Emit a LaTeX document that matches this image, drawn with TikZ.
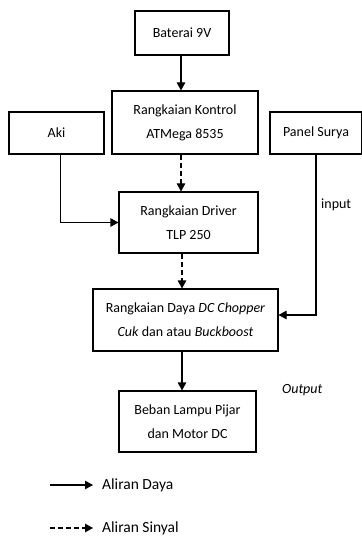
\documentclass[tikz,border=0pt]{standalone}
\usepackage{fontspec}
\setmainfont{Carlito}
\usetikzlibrary{arrows.meta}
\begin{document}
\begin{tikzpicture}[x=1pt,y=-1pt,
  box/.style={draw,line width=1.1pt,inner sep=0pt,align=center,font=\fontsize{14}{24}\selectfont},
  lbl/.style={inner sep=0pt,font=\fontsize{14}{24}\selectfont},
  leg/.style={inner sep=0pt,font=\fontsize{15.5}{24}\selectfont},
  arr/.style={line width=1.1pt,-{Triangle[length=8pt,width=8.5pt]}},
  sig/.style={arr,dash pattern=on 5pt off 3pt}]
\useasboundingbox (0,0) rectangle (361,537);
\node[box,minimum width=94pt,minimum height=44pt] (bat) at (182,33) {Baterai 9V};
\node[box,minimum width=146pt,minimum height=63pt] (kon) at (185,122.5) {Rangkaian Kontrol\\ATMega 8535};
\node[box,minimum width=95pt,minimum height=42pt] (aki) at (56.5,133) {Aki};
\node[box,minimum width=92pt,minimum height=42pt] (pan) at (316,133) {Panel Surya};
\node[box,minimum width=139pt,minimum height=61pt] (drv) at (188.5,222.5) {Rangkaian Driver\\TLP 250};
\node[box,minimum width=185pt,minimum height=62pt] (day) at (185.5,320) {Rangkaian Daya \textit{DC Chopper}\\\textit{Cuk} dan atau \textit{Buckboost}};
\node[box,minimum width=137pt,minimum height=61pt] (beb) at (187.5,421.5) {Beban Lampu Pijar\\dan Motor DC};
\node[lbl,anchor=west] (inp) at (321,205) {input};
\node[lbl,anchor=west] (out) at (282,390) {\textit{Output}};
\draw[arr] (bat.south -| 181,0) -- (181,0 |- kon.north);
\draw[sig] (kon.south -| 181,0) -- (181,0 |- drv.north);
\draw[sig] (drv.south -| 182,0) -- (182,0 |- day.north);
\draw[arr] (day.south -| 182,0) -- (182,0 |- beb.north);
\draw[arr] ([xshift=4pt]aki.south) |- (drv.west);
\draw[arr] (pan.south) |- ([yshift=5pt]day.east);
\coordinate (l1a) at (50,485);
\coordinate (l1b) at (93,485);
\coordinate (l2a) at (50,528);
\coordinate (l2b) at (93,528);
\draw[arr] (l1a) -- (l1b);
\draw[sig] (l2a) -- (l2b);
\node[leg,anchor=west] (t1) at (102,485) {Aliran Daya};
\node[leg,anchor=west] (t2) at (102,528) {Aliran Sinyal};
\end{tikzpicture}
\end{document}
